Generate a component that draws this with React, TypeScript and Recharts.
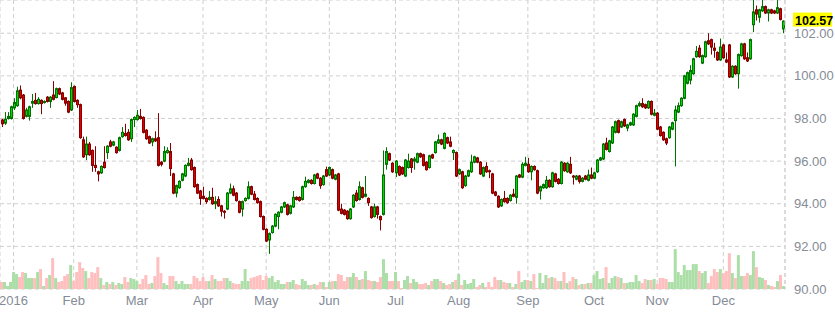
import { ComposedChart, Bar, XAxis, YAxis, CartesianGrid, Cell, ReferenceLine } from 'recharts';

// open, high, low, close, volume (k contracts)
type Row = [number, number, number, number, number];

const dec2015: Row[] = [
  [97.93, 97.98, 97.6, 97.75, 7], [97.78, 98.3, 97.7, 97.97, 7], [98.0, 98.3, 97.95, 98.1, 3], [98.0, 98.6, 97.95, 98.55, 7],
];
const jan: Row[] = [
  [98.5, 98.95, 98.4, 98.75, 17], [98.6, 99.49, 98.55, 99.3, 15], [99.33, 99.55, 98.9, 98.97, 12], [99.1, 99.15, 97.95, 98.0, 17],
  [98.1, 98.5, 98.05, 98.4, 16], [98.1, 98.6, 97.9, 98.55, 11], [98.72, 99.15, 98.5, 98.8, 11], [98.85, 99.2, 98.65, 98.7, 11],
  [98.7, 99.0, 98.65, 98.9, 17], [98.85, 98.9, 98.2, 98.7, 20], [98.75, 98.85, 98.7, 98.8, 3], [99.0, 99.05, 98.75, 98.8, 11],
  [98.8, 99.05, 98.5, 99.0, 14], [99.1, 99.75, 98.85, 98.9, 31], [98.98, 99.45, 98.95, 99.4, 11], [99.4, 99.45, 99.1, 99.15, 7],
  [99.2, 99.25, 98.85, 98.9, 8], [98.97, 99.0, 98.6, 98.72, 13], [98.8, 98.85, 98.25, 98.3, 15], [98.4, 99.7, 98.35, 99.45, 24],
];
const feb: Row[] = [
  [99.5, 99.55, 98.75, 98.8, 8], [98.85, 98.9, 98.5, 98.65, 17], [98.65, 98.7, 97.05, 97.1, 27], [97.0, 97.15, 96.15, 96.2, 21],
  [96.3, 97.15, 96.05, 96.8, 18], [96.8, 96.9, 96.25, 96.3, 11], [96.5, 96.55, 95.5, 95.8, 17], [95.8, 96.7, 95.5, 95.7, 16],
  [95.5, 95.55, 95.05, 95.4, 22], [95.45, 95.8, 95.4, 95.75, 11], [95.95, 96.7, 95.65, 95.7, 4], [96.4, 96.75, 96.1, 96.7, 7],
  [96.9, 97.0, 96.65, 96.7, 5], [96.75, 96.95, 96.7, 96.9, 7], [96.65, 96.7, 96.35, 96.4, 4], [96.5, 97.15, 96.45, 97.1, 6],
  [97.15, 97.6, 97.1, 97.35, 5], [97.3, 97.75, 97.15, 97.2, 12], [97.35, 97.5, 96.95, 97.0, 7], [97.05, 98.0, 96.9, 97.95, 11],
  [97.95, 98.1, 97.6, 98.05, 10],
];
const mar: Row[] = [
  [97.95, 98.4, 97.9, 98.15, 8], [98.1, 98.45, 97.95, 98.0, 5], [98.05, 98.1, 97.3, 97.35, 10], [97.45, 97.5, 97.0, 97.05, 14],
  [97.15, 97.2, 96.8, 96.85, 5], [96.9, 97.1, 96.7, 97.05, 6], [97.05, 97.4, 96.9, 96.95, 13], [97.1, 98.25, 95.75, 95.8, 32],
  [95.95, 96.0, 95.75, 95.85, 16], [96.0, 96.7, 95.95, 96.45, 6], [96.4, 96.65, 96.35, 96.5, 4], [96.45, 96.85, 95.3, 95.65, 13],
  [95.4, 95.45, 94.45, 94.5, 13], [94.5, 94.9, 94.3, 94.85, 8], [94.75, 95.1, 94.7, 95.05, 5], [95.1, 95.45, 95.05, 95.4, 8],
  [95.3, 95.85, 95.25, 95.8, 5], [95.8, 96.15, 95.75, 95.9, 5], [96.05, 96.15, 95.55, 95.6, 5], [95.7, 95.75, 94.75, 94.8, 13],
  [94.9, 94.95, 94.45, 94.5, 11], [94.6, 94.65, 93.95, 94.25, 8],
];
const apr: Row[] = [
  [94.35, 94.8, 94.2, 94.25, 12], [94.25, 94.3, 94.0, 94.1, 8], [94.2, 94.6, 94.15, 94.3, 8], [94.3, 94.75, 93.95, 94.0, 14],
  [94.0, 94.35, 93.75, 94.1, 10], [94.2, 94.35, 93.85, 93.9, 8], [93.9, 93.95, 93.4, 93.65, 8], [93.65, 93.7, 93.3, 93.6, 11],
  [93.75, 94.55, 93.7, 94.5, 11], [94.5, 94.95, 94.45, 94.7, 8], [94.7, 94.85, 94.35, 94.4, 6], [94.5, 94.55, 94.1, 94.15, 5],
  [94.1, 94.15, 93.55, 93.6, 5], [93.75, 94.15, 93.4, 94.1, 8], [94.15, 94.3, 94.1, 94.25, 20], [94.25, 95.05, 94.2, 94.8, 8],
  [94.8, 94.85, 94.4, 94.45, 11], [94.45, 94.6, 94.15, 94.2, 12], [94.25, 94.3, 94.0, 94.05, 13], [94.1, 94.15, 93.35, 93.4, 14],
  [93.4, 93.45, 92.75, 92.8, 9],
];
const may: Row[] = [
  [92.8, 92.85, 92.2, 92.25, 13], [92.3, 92.65, 91.65, 92.6, 11], [92.65, 93.0, 92.6, 92.95, 13], [92.95, 93.55, 92.9, 93.5, 7],
  [93.4, 93.65, 92.8, 93.6, 9], [93.6, 93.9, 93.55, 93.85, 5], [93.85, 94.1, 93.8, 94.05, 5], [93.95, 94.0, 93.45, 93.5, 7],
  [93.55, 93.95, 93.5, 93.9, 7], [93.85, 94.6, 93.8, 94.3, 9], [94.3, 94.35, 94.15, 94.2, 5], [94.3, 94.35, 94.1, 94.15, 4],
  [94.2, 94.85, 94.15, 94.8, 10], [94.8, 95.27, 94.75, 95.05, 8], [95.0, 95.15, 94.95, 95.1, 4], [95.1, 95.15, 94.9, 94.95, 4],
  [94.95, 95.4, 94.9, 95.35, 5], [95.4, 95.45, 95.15, 95.2, 4], [95.2, 95.25, 94.7, 94.85, 7], [94.9, 95.35, 94.85, 95.3, 7],
  [95.6, 95.74, 95.25, 95.3, 2],
];
const jun: Row[] = [
  [95.35, 95.75, 95.3, 95.7, 7], [95.6, 95.65, 95.15, 95.2, 8], [95.15, 95.4, 95.1, 95.35, 8], [95.4, 95.45, 93.65, 93.7, 15],
  [93.75, 94.0, 93.5, 93.55, 14], [93.7, 93.75, 93.45, 93.5, 8], [93.65, 93.7, 93.25, 93.3, 12], [93.3, 93.8, 93.25, 93.75, 12],
  [93.85, 94.45, 93.8, 94.4, 16], [94.5, 94.65, 94.1, 94.15, 12], [94.2, 95.05, 94.15, 94.8, 9], [94.75, 94.8, 94.25, 94.3, 10],
  [94.35, 95.3, 94.3, 94.45, 18], [94.25, 94.3, 93.9, 94.05, 9], [93.85, 93.9, 93.3, 93.35, 8], [93.4, 94.0, 93.35, 93.85, 8],
  [93.85, 93.9, 93.3, 93.5, 7], [93.4, 93.45, 92.75, 93.25, 12], [93.5, 96.5, 93.45, 95.35, 30], [95.85, 96.65, 95.6, 96.45, 16],
  [96.35, 96.4, 96.0, 96.05, 8], [95.9, 95.95, 95.45, 95.5, 8],
];
const jul: Row[] = [
  [95.45, 96.05, 95.25, 96.0, 17], [95.75, 95.8, 95.3, 95.35, 8], [95.7, 95.75, 95.35, 95.4, 1], [95.3, 96.1, 95.25, 96.05, 9],
  [95.7, 96.35, 95.65, 96.0, 13], [96.1, 96.15, 95.45, 95.7, 6], [96.0, 96.2, 95.6, 96.1, 10], [95.95, 96.4, 95.9, 96.35, 7],
  [96.35, 96.4, 96.15, 96.2, 5], [96.3, 96.35, 95.75, 95.8, 5], [95.95, 96.0, 95.55, 95.6, 6], [95.7, 96.3, 95.65, 96.25, 4],
  [96.3, 96.35, 96.1, 96.15, 8], [96.4, 96.95, 96.35, 96.9, 10], [96.85, 97.25, 96.8, 97.0, 10], [97.0, 97.05, 96.75, 96.8, 8],
  [96.6, 97.35, 96.55, 97.3, 6], [97.1, 97.15, 96.8, 96.85, 4], [96.9, 97.15, 96.65, 96.7, 5], [96.4, 96.55, 96.05, 96.5, 7],
  [96.4, 96.45, 95.25, 95.3, 9],
];
const aug: Row[] = [
  [95.4, 95.65, 95.35, 95.6, 15], [95.5, 95.55, 94.7, 94.75, 4], [94.85, 95.35, 94.8, 95.3, 9], [95.3, 95.6, 95.25, 95.55, 5],
  [95.5, 96.3, 95.45, 95.95, 6], [95.95, 96.25, 95.9, 96.2, 10], [96.15, 96.2, 95.9, 95.95, 2], [95.95, 96.0, 95.35, 95.4, 4],
  [95.3, 95.75, 95.25, 95.7, 6], [95.75, 95.95, 95.45, 95.5, 2], [95.55, 95.6, 95.2, 95.5, 7], [95.4, 95.45, 94.45, 94.5, 2],
  [94.55, 94.6, 94.35, 94.4, 12], [94.35, 94.4, 93.8, 93.85, 9], [93.9, 94.25, 93.85, 94.2, 9], [94.25, 94.6, 94.05, 94.1, 7],
  [94.25, 94.3, 94.0, 94.05, 6], [94.15, 94.45, 94.1, 94.4, 6], [94.45, 94.7, 94.3, 94.35, 2], [94.3, 95.35, 94.0, 95.3, 5],
  [95.35, 95.4, 95.2, 95.25, 18], [95.25, 95.95, 95.2, 95.85, 7], [95.8, 96.2, 95.75, 95.9, 9],
];
const sep: Row[] = [
  [95.85, 96.15, 95.45, 95.5, 9], [95.5, 95.8, 95.1, 95.75, 8], [95.75, 95.8, 95.55, 95.6, 15], [95.55, 95.6, 94.45, 94.5, 1],
  [94.6, 94.85, 94.2, 94.8, 16], [94.75, 94.95, 94.7, 94.9, 6], [94.75, 95.3, 94.7, 95.1, 14], [95.1, 95.15, 94.75, 94.8, 11],
  [94.8, 95.5, 94.75, 95.45, 12], [95.4, 95.45, 95.0, 95.05, 11], [95.15, 95.2, 94.9, 94.95, 8], [94.95, 96.0, 94.9, 95.95, 8],
  [95.9, 95.95, 95.5, 95.55, 17], [95.5, 95.95, 95.45, 95.9, 6], [95.85, 96.2, 95.4, 95.45, 8], [95.3, 95.35, 94.9, 95.25, 12],
  [95.15, 95.35, 95.1, 95.3, 10], [95.3, 95.35, 94.95, 95.05, 4], [95.05, 95.25, 95.0, 95.2, 5], [95.3, 95.35, 95.1, 95.15, 5],
  [95.1, 95.6, 95.05, 95.35, 6], [95.35, 95.7, 95.15, 95.2, 6],
];
const oct: Row[] = [
  [95.2, 95.5, 95.15, 95.45, 14], [95.5, 96.1, 95.45, 96.05, 18], [96.05, 96.2, 96.0, 96.15, 10], [96.1, 96.85, 96.05, 96.8, 11],
  [96.85, 97.1, 96.5, 96.55, 22], [96.45, 97.0, 96.4, 96.95, 6], [96.85, 97.65, 96.8, 97.6, 11], [97.35, 97.9, 97.3, 97.85, 13],
  [97.9, 97.95, 97.3, 97.35, 12], [97.6, 97.9, 97.55, 97.85, 11], [97.95, 98.0, 97.6, 97.65, 6], [97.55, 97.75, 97.4, 97.7, 6],
  [97.7, 97.85, 97.65, 97.8, 7], [97.7, 98.25, 97.65, 98.2, 7], [98.1, 98.65, 98.05, 98.6, 14], [98.6, 98.8, 98.55, 98.7, 8],
  [98.7, 98.95, 98.5, 98.55, 6], [98.65, 98.7, 98.45, 98.5, 10], [98.5, 98.85, 98.45, 98.8, 9], [98.8, 98.85, 98.15, 98.2, 9],
  [98.15, 98.45, 98.1, 98.25, 10],
];
const nov: Row[] = [
  [98.25, 98.3, 97.45, 97.5, 5], [97.6, 97.65, 97.15, 97.2, 11], [97.35, 97.4, 96.95, 97.0, 11], [97.05, 97.1, 96.75, 96.85, 10],
  [97.1, 97.65, 97.05, 97.6, 7], [97.5, 97.85, 97.45, 97.8, 7], [97.9, 98.6, 95.75, 98.4, 40], [98.3, 98.75, 98.25, 98.6, 17],
  [98.6, 99.0, 98.55, 98.95, 14], [98.95, 100.05, 98.9, 100.0, 24], [99.65, 100.2, 99.6, 100.15, 19], [99.8, 100.5, 99.6, 100.25, 19],
  [100.1, 100.85, 100.05, 100.8, 25], [100.9, 101.4, 100.85, 101.15, 25], [101.3, 101.45, 100.85, 100.9, 18], [100.6, 101.0, 100.55, 100.95, 16],
  [100.9, 101.65, 100.85, 101.6, 18], [101.65, 102.0, 101.45, 101.5, 6], [101.7, 101.75, 101.0, 101.35, 13], [101.3, 101.55, 100.85, 101.2, 20],
  [101.1, 101.15, 100.7, 100.75, 17], [100.75, 101.75, 100.7, 101.35, 20],
];
const dec: Row[] = [
  [101.45, 101.5, 100.8, 100.85, 16], [100.75, 101.1, 100.6, 100.65, 18], [101.45, 101.5, 99.9, 99.95, 36], [99.95, 100.5, 99.9, 100.45, 16],
  [100.45, 100.5, 100.05, 100.1, 11], [100.1, 101.05, 99.4, 101.0, 34], [100.95, 101.55, 100.9, 101.5, 13], [101.5, 101.55, 100.75, 100.8, 13],
  [100.85, 101.1, 100.65, 100.7, 16], [100.8, 101.75, 100.75, 101.7, 14], [102.4, 103.6, 102.05, 103.0, 38], [103.1, 103.3, 102.6, 102.9, 22],
  [102.75, 103.15, 102.5, 103.1, 12], [103.05, 103.6, 103.0, 103.25, 11], [103.25, 103.3, 102.9, 102.95, 9], [102.95, 103.15, 102.55, 103.1, 4],
  [103.1, 103.15, 102.9, 102.95, 3], [103.05, 103.1, 102.9, 102.95, 2], [102.95, 103.6, 102.9, 103.2, 8], [103.15, 103.2, 102.6, 102.65, 14],
  [102.2, 102.6, 102.0, 102.57, 3],
];

const months = [jan, feb, mar, apr, may, jun, jul, aug, sep, oct, nov, dec];
const monthLabels = ['2016', 'Feb', 'Mar', 'Apr', 'May', 'Jun', 'Jul', 'Aug', 'Sep', 'Oct', 'Nov', 'Dec'];
const priceTicks = [90, 92, 94, 96, 98, 100, 102];

const GREEN = { body: '#00d900', edge: '#007200', vol: '#acdfa8' };
const RED = { body: '#e00000', edge: '#870000', vol: '#ffbfbf' };
const FONT = '"Liberation Sans", Arial, sans-serif';
const AXIS_TEXT = { fill: '#858b97', fontSize: 13, fontFamily: FONT };

const rows: Row[] = [dec2015, ...months].flat();
const data = rows.map(([open, high, low, close, volume], idx) => ({
  idx, open, high, low, close, volume, range: [low, high],
}));

// first trading day of each month -> tick label
const tickIdx: number[] = [];
const tickLabel: Record<number, string> = {};
let start = dec2015.length;
months.forEach((m, i) => {
  tickIdx.push(start);
  tickLabel[start] = monthLabels[i];
  start += m.length;
});

const last = data[data.length - 1];

const Candle = (props: any) => {
  const { x, y, width, height, payload } = props;
  if (!payload) return null;
  const { open, high, low, close } = payload;
  const top = Math.min(y, y + height);
  const span = Math.abs(height);
  const unit = high === low ? 0 : span / (high - low);
  const py = (v: number) => top + (high - v) * unit;
  const cx = Math.round(x + width / 2) + 0.5;
  const c = close >= open ? GREEN : RED;
  const bTop = py(Math.max(open, close));
  const bBot = py(Math.min(open, close));
  return (
    <g>
      <line x1={cx} x2={cx} y1={top} y2={top + span} stroke={c.edge} strokeWidth={1} />
      <rect x={cx - 1} y={bTop} width={2} height={Math.max(bBot - bTop, 1)} fill={c.body} stroke={c.edge} strokeWidth={1} />
    </g>
  );
};

// yellow box with the last close, right of the plot
const LastPrice = (props: any) => {
  const vb = props.viewBox;
  if (!vb) return null;
  const bx = vb.x + vb.width + 8;
  return (
    <g>
      <rect x={bx} y={vb.y - 8.5} width={39} height={14} fill="#ffff00" />
      <text x={bx + 2} y={vb.y + 3.5} fontSize={12.5} fontWeight="bold" fill="#000" fontFamily={FONT}>
        {last.close.toFixed(2)}
      </text>
    </g>
  );
};

export default function App() {
  return (
    <div style={{ width: 835, height: 314, background: '#fff' }}>
      <style>{'body{margin:0}'}</style>
      <ComposedChart width={835} height={314} data={data} margin={{ top: 0, right: 0, bottom: 0, left: 0 }} barCategoryGap={0}>
        <CartesianGrid xAxisId="p" yAxisId="p" stroke="#cfcfcf" strokeDasharray="4 3" />
        <XAxis
          xAxisId="p"
          dataKey="idx"
          type="category"
          ticks={tickIdx}
          interval={0}
          tickFormatter={(v: number) => tickLabel[v] ?? ''}
          axisLine={false}
          tickLine={false}
          height={25}
          tick={AXIS_TEXT}
          tickMargin={1}
        />
        <XAxis xAxisId="v" dataKey="idx" type="category" hide />
        <YAxis
          yAxisId="p"
          orientation="right"
          width={50}
          domain={[90, 103.56]}
          allowDataOverflow
          ticks={priceTicks}
          tickFormatter={(v: number) => v.toFixed(2)}
          axisLine={{ stroke: '#cfcfcf', strokeDasharray: '4 3' }}
          tickLine={false}
          tick={AXIS_TEXT}
          tickMargin={3}
        />
        <YAxis yAxisId="v" hide domain={[0, 290]} />
        <Bar xAxisId="v" yAxisId="v" dataKey="volume" isAnimationActive={false}>
          {data.map((d) => (
            <Cell key={d.idx} fill={d.close >= d.open ? GREEN.vol : RED.vol} />
          ))}
        </Bar>
        <Bar xAxisId="p" yAxisId="p" dataKey="range" shape={Candle} isAnimationActive={false} />
        <ReferenceLine xAxisId="p" yAxisId="p" y={last.close} stroke="none" label={<LastPrice />} />
      </ComposedChart>
    </div>
  );
}
